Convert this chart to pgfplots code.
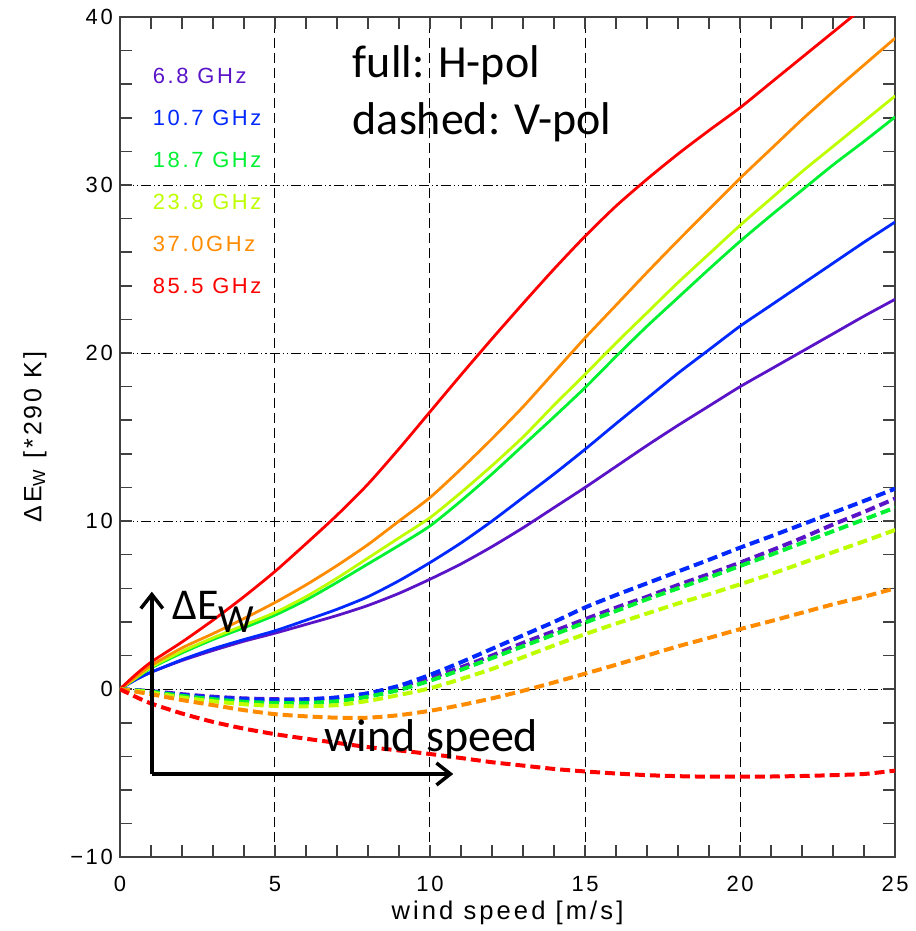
\documentclass[border=0pt]{standalone}
\usepackage{pgfplots}
\pgfplotsset{compat=1.18}
\usepackage{fontspec}
\usetikzlibrary{arrows.meta}
\setmainfont{Liberation Sans}
\newfontfamily\idl{Liberation Sans}[LetterSpace=12]
\newfontfamily\calfont{Carlito}
\definecolor{cA}{RGB}{90,20,200}
\definecolor{cB}{RGB}{0,40,255}
\definecolor{cC}{RGB}{0,240,50}
\definecolor{cD}{RGB}{190,255,0}
\definecolor{cE}{RGB}{255,140,0}
\definecolor{cF}{RGB}{255,0,0}
\begin{document}
\begin{tikzpicture}
\begin{axis}[
  scale only axis, width=388pt, height=420.5pt,
  xmin=0, xmax=25, ymin=-10, ymax=40,
  xtick={0,5,...,25}, ytick={-10,0,...,40},
  yticklabels={−10,0,10,20,30,40},
  minor x tick num=4, minor y tick num=4,
  tick align=inside, major tick length=6pt, minor tick length=6pt,
  grid=major,
  x grid style={black, line width=0.5pt, dash pattern=on 5pt off 2.5pt},
  y grid style={black, line width=0.5pt, dash pattern=on 5pt off 1.5pt on 0.6pt off 1.5pt on 0.6pt off 1.5pt},
  axis line style={black!75, line width=0.9pt},
  tick style={black!75, line width=0.8pt},
  ticklabel style={font=\idl\fontsize{11}{13}\selectfont},
  xticklabel style={yshift=-6pt},
  /pgf/number format/assume math mode=true,
  xlabel={\idl\fontsize{12.8}{15}\selectfont wind speed [m/s]},
  ylabel={\idl\fontsize{12.5}{15}\selectfont ΔE\textsubscript{W} [*290 K]},
  ylabel shift=5pt,
  xlabel shift=-2.5pt,
  clip mode=individual,
  hpol/.style={line width=1.4pt, smooth, tension=0.4},
  vpol/.style={line width=2pt, dash pattern=on 5pt off 2.5pt, smooth, tension=0.4},
]
% H-pol (solid)
\addplot[cA, hpol] coordinates {(0,0) (0.5,0.55) (1,1.0) (2,1.7) (3,2.3) (4,2.85) (5,3.33) (6,3.85) (7,4.38) (8,4.98) (9,5.7) (10,6.54) (11,7.45) (12,8.48) (13,9.6) (14,10.8) (15,12.0) (16,13.25) (17,14.5) (18,15.7) (19,16.85) (20,18.0) (21,19.05) (22,20.1) (23,21.15) (24,22.2) (25,23.2)};
\addplot[cB, hpol] coordinates {(0,0) (0.5,0.55) (1,1.0) (2,1.75) (3,2.4) (4,2.95) (5,3.47) (6,4.1) (7,4.75) (8,5.5) (9,6.45) (10,7.53) (11,8.7) (12,10.0) (13,11.4) (14,12.8) (15,14.27) (16,15.8) (17,17.3) (18,18.8) (19,20.2) (20,21.6) (21,22.85) (22,24.1) (23,25.35) (24,26.6) (25,27.8)};
\addplot[cC, hpol] coordinates {(0,0) (0.5,0.62) (1,1.25) (2,2.15) (3,2.95) (4,3.65) (5,4.4) (6,5.3) (7,6.35) (8,7.45) (9,8.55) (10,9.71) (11,11.2) (12,12.8) (13,14.5) (14,16.2) (15,17.94) (16,19.8) (17,21.6) (18,23.3) (19,25.0) (20,26.65) (21,28.2) (22,29.7) (23,31.2) (24,32.6) (25,34.05)};
\addplot[cD, hpol] coordinates {(0,0) (0.5,0.65) (1,1.3) (2,2.25) (3,3.05) (4,3.8) (5,4.56) (6,5.5) (7,6.6) (8,7.8) (9,9.0) (10,10.2) (11,11.7) (12,13.3) (13,15.0) (14,16.9) (15,18.73) (16,20.6) (17,22.4) (18,24.2) (19,25.9) (20,27.6) (21,29.2) (22,30.8) (23,32.3) (24,33.8) (25,35.3)};
\addplot[cE, hpol] coordinates {(0,0) (0.5,0.7) (1,1.4) (2,2.45) (3,3.3) (4,4.2) (5,5.15) (6,6.2) (7,7.35) (8,8.6) (9,10.0) (10,11.4) (11,13.1) (12,14.9) (13,16.8) (14,18.85) (15,20.9) (16,22.85) (17,24.8) (18,26.7) (19,28.55) (20,30.4) (21,32.15) (22,33.9) (23,35.55) (24,37.15) (25,38.74)};
\addplot[cF, hpol] coordinates {(0,0) (0.5,0.85) (1,1.6) (2,2.8) (3,4.1) (4,5.5) (5,7.0) (6,8.65) (7,10.35) (8,12.2) (9,14.3) (10,16.5) (11,18.7) (12,20.85) (13,22.95) (14,25.0) (15,26.95) (16,28.75) (17,30.35) (18,31.85) (19,33.25) (20,34.6) (21,36.1) (22,37.6) (23,39.1) (24,40.6) (25,42.1)};
% V-pol (dashed)
\addplot[cA, vpol] coordinates {(0,0) (1,-0.12) (2,-0.3) (3,-0.45) (4,-0.55) (5,-0.6) (6,-0.6) (7,-0.5) (8,-0.25) (9,0.15) (10,0.65) (11,1.3) (12,2.0) (13,2.75) (14,3.45) (15,4.16) (16,4.85) (17,5.5) (18,6.2) (19,6.85) (20,7.53) (21,8.25) (22,9.0) (23,9.8) (24,10.55) (25,11.34)};
\addplot[cB, vpol] coordinates {(0,0) (1,-0.15) (2,-0.35) (3,-0.5) (4,-0.6) (5,-0.65) (6,-0.62) (7,-0.5) (8,-0.25) (9,0.2) (10,0.85) (11,1.6) (12,2.4) (13,3.2) (14,4.0) (15,4.86) (16,5.6) (17,6.3) (18,7.0) (19,7.7) (20,8.42) (21,9.1) (22,9.8) (23,10.5) (24,11.2) (25,11.93)};
\addplot[cC, vpol] coordinates {(0,0) (0.5,-0.08) (1,-0.15) (2,-0.4) (3,-0.6) (4,-0.75) (5,-0.82) (6,-0.82) (7,-0.72) (8,-0.45) (9,-0.05) (10,0.5) (11,1.15) (12,1.85) (13,2.55) (14,3.25) (15,3.96) (16,4.65) (17,5.35) (18,6.0) (19,6.65) (20,7.33) (21,8.0) (22,8.7) (23,9.4) (24,10.1) (25,10.8)};
\addplot[cD, vpol] coordinates {(0,0) (0.5,-0.1) (1,-0.2) (2,-0.5) (3,-0.72) (4,-0.9) (5,-1.0) (6,-1.02) (7,-0.95) (8,-0.7) (9,-0.35) (10,0.05) (11,0.6) (12,1.2) (13,1.9) (14,2.6) (15,3.27) (16,3.9) (17,4.5) (18,5.1) (19,5.65) (20,6.24) (21,6.85) (22,7.5) (23,8.15) (24,8.8) (25,9.47)};
\addplot[cE, vpol] coordinates {(0,0) (0.5,-0.15) (1,-0.3) (2,-0.65) (3,-0.95) (4,-1.25) (5,-1.49) (6,-1.62) (7,-1.7) (8,-1.7) (9,-1.55) (10,-1.29) (11,-0.95) (12,-0.55) (13,-0.1) (14,0.4) (15,0.92) (16,1.45) (17,2.0) (18,2.55) (19,3.05) (20,3.57) (21,4.05) (22,4.55) (23,5.05) (24,5.5) (25,6.0)};
\addplot[cF, vpol] coordinates {(0,0) (0.5,-0.45) (1,-0.85) (2,-1.45) (3,-1.95) (4,-2.35) (5,-2.68) (6,-2.95) (7,-3.2) (8,-3.45) (9,-3.65) (10,-3.86) (11,-4.1) (12,-4.35) (13,-4.55) (14,-4.75) (15,-4.9) (16,-5.02) (17,-5.12) (18,-5.18) (19,-5.21) (20,-5.21) (21,-5.2) (22,-5.17) (23,-5.12) (24,-5.05) (25,-4.85)};
% frequency labels
\begin{scope}[every node/.style={anchor=west, inner sep=0pt, font=\idl\fontsize{11}{13}\selectfont}]
\node[text=cA] at (axis cs:1.05,36.5) {6.8 GHz};
\node[text=cB] at (axis cs:1.05,34.0) {10.7 GHz};
\node[text=cC] at (axis cs:1.05,31.5) {18.7 GHz};
\node[text=cD] at (axis cs:1.05,29.0) {23.8 GHz};
\node[text=cE] at (axis cs:1.05,26.5) {37.0GHz};
\node[text=cF] at (axis cs:1.05,24.0) {85.5 GHz};
\end{scope}
% annotations
\node[anchor=base west, inner sep=0pt, font=\calfont\fontsize{23}{27}\selectfont] at (axis cs:7.5,36.4) {full: H-pol};
\node[anchor=base west, inner sep=0pt, font=\calfont\fontsize{23}{27}\selectfont] at (axis cs:7.5,33.0) {dashed: V-pol};
\draw[line width=1.75pt, -{Straight Barb[length=7pt,width=11pt,line width=1.75pt]}] (axis cs:1.03,-5.05) -- (axis cs:1.03,5.8);
\draw[line width=1.75pt, -{Straight Barb[length=7pt,width=11pt,line width=1.75pt]}] (axis cs:1.03,-5.05) -- (axis cs:10.75,-5.05);
\node[anchor=base west, inner sep=0pt, font=\calfont\fontsize{23}{27}\selectfont] at (axis cs:6.57,-3.73) {wind speed};
\node[anchor=base west, inner sep=0pt, font=\calfont\fontsize{22}{26}\selectfont] at (axis cs:1.68,4.16) {ΔE\raisebox{-0.3em}{\fontsize{20}{24}\selectfont W}};
\coordinate (bl) at ([xshift=-60pt,yshift=-36.5pt]rel axis cs:0,0);
\coordinate (tr) at ([xshift=9pt,yshift=8.5pt]rel axis cs:1,1);
\end{axis}
\path (bl) rectangle (tr);
\end{tikzpicture}
\end{document}
